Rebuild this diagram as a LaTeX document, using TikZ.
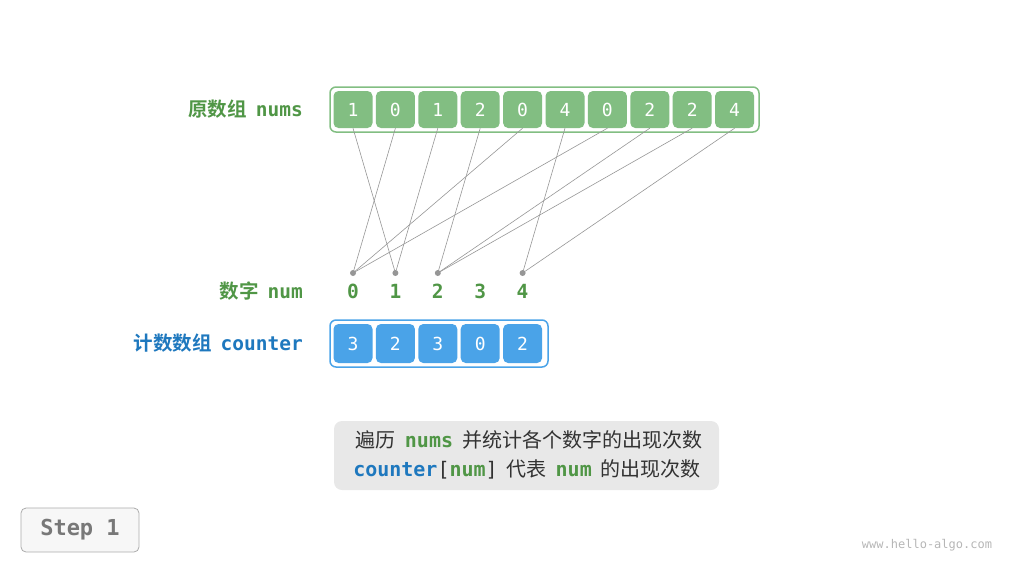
\documentclass[tikz,border=0pt]{standalone}
\usepackage{fontspec}
\setmonofont{DejaVu Sans Mono}
\newfontfamily\cjk{Noto Sans CJK SC}
\newfontfamily\cjkb{Noto Sans CJK SC Bold}
\definecolor{gcell}{RGB}{130,190,130}
\definecolor{gborder}{RGB}{130,190,130}
\definecolor{gtext}{RGB}{80,150,70}
\definecolor{bcell}{RGB}{74,163,232}
\definecolor{bborder}{RGB}{74,163,232}
\definecolor{btext}{RGB}{30,120,190}
\definecolor{lgray}{RGB}{150,150,150}
\definecolor{capbg}{RGB}{232,232,232}
\definecolor{captext}{RGB}{50,50,50}
\begin{document}
\begin{tikzpicture}[x=1pt,y=-1pt,
  gcellst/.style={fill=gcell,rounded corners=5pt,minimum width=39pt,minimum height=37pt,inner sep=0pt,text=white,font=\ttfamily\fontsize{18}{18}\selectfont},
  bcellst/.style={fill=bcell,rounded corners=5pt,minimum width=39pt,minimum height=39pt,inner sep=0pt,text=white,font=\ttfamily\fontsize{18}{18}\selectfont},
  lbl/.style={anchor=east,inner sep=0pt,font=\fontsize{19.5}{19.5}\selectfont},
  numlbl/.style={inner sep=0pt,anchor=base,text=gtext,font=\ttfamily\bfseries\fontsize{19.5}{19.5}\selectfont},
  dotst/.style={circle,fill=lgray,inner sep=0pt,minimum size=6pt},
  link/.style={draw=lgray,line width=0.6pt}]
\useasboundingbox (0,0) rectangle (1024,574);
% nums array
\node[draw=gborder,line width=1.5pt,rounded corners=6pt,fill=white,minimum width=429pt,minimum height=45pt,inner sep=0pt] (numsbox) at (544.5,109.5) {};
\foreach \v [count=\i from 0] in {1,0,1,2,0,4,0,2,2,4} {
  \node[gcellst] (n\i) at (353+42.4*\i,109.5) {\v};
}
\node[lbl,text=gtext] (numslbl) at (303,109.5) {\cjkb 原数组\ \ \ttfamily\bfseries nums};
% dots and digit labels
\foreach \d [count=\i from 0] in {0,1,2,3,4} {
  \node[numlbl] (d\i) at (353+42.4*\i,298) {\d};
}
\foreach \i in {0,1,2,4} {
  \node[dotst] (p\i) at (353+42.4*\i,273) {};
}
\node[lbl,text=gtext] (numlbl) at (303,291) {\cjkb 数字\ \ \ttfamily\bfseries num};
% links
\foreach \i/\v in {0/1,1/0,2/1,3/2,4/0,5/4,6/0,7/2,8/2,9/4} {
  \draw[link] (n\i.south) -- (p\v.center);
}
% counter array
\node[draw=bborder,line width=1.5pt,rounded corners=6pt,fill=white,minimum width=218pt,minimum height=47pt,inner sep=0pt] (cntbox) at (439,343.5) {};
\foreach \v [count=\i from 0] in {3,2,3,0,2} {
  \node[bcellst] (c\i) at (353+42.4*\i,343.5) {\v};
}
\node[lbl,text=btext] (cntlbl) at (303,343) {\cjkb 计数数组\ \ \ttfamily\bfseries counter};
% caption
\node[fill=capbg,rounded corners=8pt,minimum width=385pt,minimum height=69pt,inner sep=0pt] (cap) at (526.5,455.5) {};
\node[inner sep=0pt,text=captext,font=\cjk\fontsize{20}{20}\selectfont] (cap1) at (529,440) {遍历\ \ {\color{gtext}\ttfamily\bfseries nums}\ \ 并统计各个数字的出现次数};
\node[inner sep=0pt,text=captext,font=\cjk\fontsize{20}{20}\selectfont] (cap2) at (527,469.5) {{\color{btext}\ttfamily\bfseries counter}{\ttfamily[}{\color{gtext}\ttfamily\bfseries num}{\ttfamily]}\ \ 代表\ \ {\color{gtext}\ttfamily\bfseries num}\ \ 的出现次数};
% step
\node[draw=lgray!80,line width=0.8pt,rounded corners=5pt,fill=white!97!black,minimum width=118pt,minimum height=44pt,inner sep=0pt,text=lgray!80!black,font=\ttfamily\bfseries\fontsize{22}{22}\selectfont] (step1) at (80,530) {Step 1};
% watermark
\node[inner sep=0pt,text=lgray!70,font=\ttfamily\fontsize{12}{12}\selectfont] (wm) at (927,545) {www.hello-algo.com};
\end{tikzpicture}
\end{document}
